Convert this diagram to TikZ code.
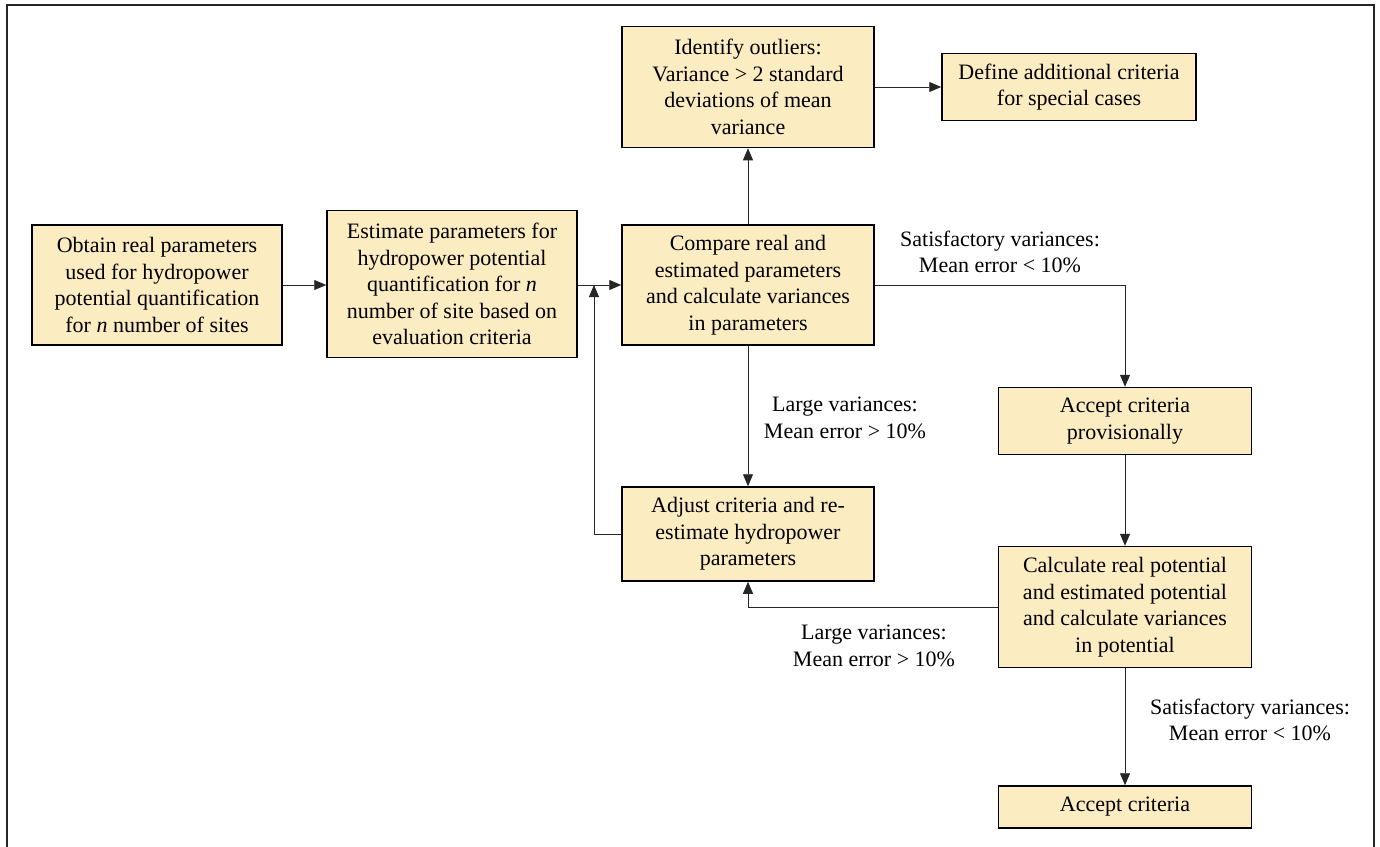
\documentclass[tikz,border=0pt]{standalone}
\usepackage{fontspec}
\setmainfont{LiberationSerif}[Extension=.ttf, UprightFont=*-Regular, ItalicFont=*-Italic, BoldFont=*-Bold, BoldItalicFont=*-BoldItalic]
\usetikzlibrary{arrows.meta}
\definecolor{boxfill}{RGB}{252,236,194}
\begin{document}
\begin{tikzpicture}[x=1pt,y=-1pt,
  box/.style={draw=black, line width=1.5pt, fill=boxfill, align=center, inner sep=0pt, font=\fontsize{22}{26.5}\selectfont},
  lbl/.style={align=center, inner sep=0pt, font=\fontsize{22}{26.5}\selectfont},
  arr/.style={-{Triangle[length=12pt,width=10pt]}, line width=0.9pt, draw=black!85},
  frame/.style={line width=2.5pt, draw=black!85}]
\useasboundingbox (0,0) rectangle (1380,846);
\draw[frame] (7,870) -- (7,5) -- (1374,5) -- (1374,870);

\node[box, minimum width=250pt, minimum height=120pt] (obtain) at (157,285)
  {Obtain real parameters\\used for hydropower\\potential quantification\\for \textit{n} number of sites};
\node[box, minimum width=250pt, minimum height=147pt] (estimate) at (452,284)
  {Estimate parameters for\\hydropower potential\\quantification for \textit{n}\\number of site based on\\evaluation criteria};
\node[box, minimum width=252pt, minimum height=120pt] (compare) at (748,285)
  {Compare real and\\estimated parameters\\and calculate variances\\in parameters};
\node[box, minimum width=252pt, minimum height=121pt] (identify) at (748,87)
  {Identify outliers:\\Variance \textgreater{} 2 standard\\deviations of mean\\variance};
\node[box, minimum width=254pt, minimum height=67pt] (define) at (1069,87)
  {Define additional criteria\\for special cases};
\node[box, minimum width=253pt, minimum height=67pt] (accprov) at (1125,421)
  {Accept criteria\\provisionally};
\node[box, minimum width=252pt, minimum height=94pt] (adjust) at (748,534)
  {Adjust criteria and re-\\estimate hydropower\\parameters};
\node[box, minimum width=253pt, minimum height=121pt] (calc) at (1125,607)
  {Calculate real potential\\and estimated potential\\and calculate variances\\in potential};
\node[box, minimum width=253pt, minimum height=42pt] (accept) at (1125,807)
  {Accept criteria};

\coordinate (fb) at (594,534);

\draw[arr] (obtain.east) -- (obtain.east -| estimate.west);
\draw[arr] (compare.west -| estimate.east) -- (compare.west);
\draw[arr] (compare.north) -- (identify.south);
\draw[arr] (identify.east) -- (define.west);
\draw[arr] (compare.east) -| (accprov.north);
\draw[arr] (compare.south) -- (adjust.north);
\draw[arr] (adjust.west) -| (fb |- compare.west);
\draw[arr] (accprov.south) -- (calc.north);
\draw[arr] (calc.west) -| (adjust.south);
\draw[arr] (calc.south) -- (accept.north);

\node[lbl] (l1) at (1000,252) {Satisfactory variances:\\Mean error \textless{} 10\%};
\node[lbl] (l2) at (845,418) {Large variances:\\Mean error \textgreater{} 10\%};
\node[lbl] (l3) at (874,646) {Large variances:\\Mean error \textgreater{} 10\%};
\node[lbl] (l4) at (1250,720) {Satisfactory variances:\\Mean error \textless{} 10\%};
\end{tikzpicture}
\end{document}
